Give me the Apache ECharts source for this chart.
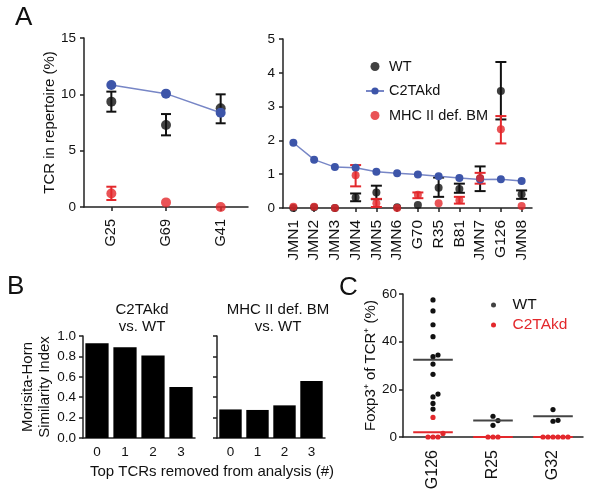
<!DOCTYPE html>
<html><head><meta charset="utf-8">
<script src="https://cdn.jsdelivr.net/npm/echarts@6/dist/echarts.min.js"></script>
<style>html,body{margin:0;padding:0;background:#fff}#c{width:600px;height:504px}</style>
</head><body><div id="c"></div>
<script>
// ---- Panel A (left) ----
const aLeftCats = ['G25', 'G69', 'G41'];
const aLeftWT = [9.35, 7.28, 8.76];
const aLeftWTlo = [8.46, 6.36, 7.43];
const aLeftWThi = [10.24, 8.25, 10.0];
const aLeftKD = [10.83, 10.06, 8.37];
const aLeftMHC = [1.2, 0.41, 0];
const aLeftMHClo = [0.62, null, null];
const aLeftMHChi = [1.8, null, null];
// ---- Panel A (right) ----
const aRightCats = ['JMN1','JMN2','JMN3','JMN4','JMN5','JMN6','G70','R35','B81','JMN7','G126','JMN8'];
const aRightKD = [1.93, 1.43, 1.21, 1.19, 1.07, 1.03, 0.99, 0.94, 0.89, 0.84, 0.85, 0.80];
const aRightWT = [0, 0.02, 0, 0.31, 0.46, 0.02, 0.09, 0.60, 0.56, 0.87, 3.46, 0.41];
const aRightWTlo = [null, null, null, 0.20, 0.26, null, null, 0.33, 0.45, 0.50, 2.62, 0.27];
const aRightWThi = [null, null, null, 0.43, 0.66, null, null, 0.90, 0.72, 1.23, 4.32, 0.52];
const aRightMHC = [0.04, 0.04, 0, 0.97, 0.14, 0, 0.39, 0.14, 0.23, 0.89, 2.33, 0.06];
const aRightMHClo = [null, null, null, 0.64, 0.03, null, 0.29, null, 0.13, 0.72, 1.91, null];
const aRightMHChi = [null, null, null, 1.27, 0.27, null, 0.46, null, 0.33, 1.04, 2.72, null];
// ---- Panel B ----
const bCats = ['0', '1', '2', '3'];
const bKDvsWT = [0.93, 0.89, 0.81, 0.50];
const bMHCvsWT = [0.28, 0.275, 0.32, 0.56];
// ---- Panel C ----
const cCats = ['G126', 'R25', 'G32'];
const cWT = [
  [57.5, 52.9, 47.1, 42.1, 34.4, 33.7, 30.6, 26.3, 18.0, 16.8, 14.1, 11.7],
  [8.7, 6.9, 4.9],
  [11.5, 7.0, 6.6]
];
const cKD = [
  [8.2, 1.5, 0, 0, 0],
  [0, 0, 0],
  [0, 0, 0, 0, 0, 0]
];
const cWTmean = [32.4, 6.9, 8.7];
const cKDmean = [2.0, 0, 0];

const FONT = '"Liberation Sans", Arial, Helvetica, sans-serif';
const BLACK = '#111111', BLUE = '#3d55a9', BLUELINE = '#7786c6', RED = '#e3282c';
const AX = '#222222';

function errData(lo, hi) {
  const out = [];
  lo.forEach((l, i) => { if (l !== null && hi[i] !== null) out.push([i, l, hi[i]]); });
  return out;
}
function errSeries(xi, yi, data, color, cap) {
  return {
    type: 'custom', xAxisIndex: xi, yAxisIndex: yi, data: data, z: 3,
    renderItem: function (params, api) {
      const p1 = api.coord([api.value(0), api.value(1)]);
      const p2 = api.coord([api.value(0), api.value(2)]);
      const st = { stroke: color, lineWidth: 2 };
      return { type: 'group', children: [
        { type: 'line', shape: { x1: p1[0], y1: p1[1], x2: p2[0], y2: p2[1] }, style: st },
        { type: 'line', shape: { x1: p1[0] - cap, y1: p1[1], x2: p1[0] + cap, y2: p1[1] }, style: st },
        { type: 'line', shape: { x1: p2[0] - cap, y1: p2[1], x2: p2[0] + cap, y2: p2[1] }, style: st }
      ]};
    }
  };
}
// simple beeswarm: returns horizontal slot index per value
function swarm(vals, pxPerUnit, step, minDist) {
  const idx = vals.map((v, i) => i).sort((a, b) => vals[a] - vals[b]);
  const placed = []; const slots = new Array(vals.length);
  for (const i of idx) {
    const y = vals[i] * pxPerUnit;
    for (let k = 0; ; k++) {
      const slot = k === 0 ? 0 : (k % 2 ? (k + 1) / 2 : -k / 2);
      const x = slot * step;
      if (placed.every(p => Math.hypot(p.x - x, p.y - y) >= minDist - 1e-9)) { placed.push({ x, y }); slots[i] = slot; break; }
    }
  }
  return slots;
}
const DOT_STEP = 5;
function swarmData(groups) {
  const out = [];
  groups.forEach((g, ci) => {
    const slots = swarm(g, 143 / 60, DOT_STEP, 5);
    g.forEach((v, j) => out.push([ci, v, slots[j]]));
  });
  return out;
}
function dotSeries(name, groups, color) {
  return {
    name: name, type: 'custom', xAxisIndex: 4, yAxisIndex: 4, z: 3,
    data: swarmData(groups), itemStyle: { color: color },
    renderItem: function (params, api) {
      const p = api.coord([api.value(0), api.value(1)]);
      return { type: 'circle', shape: { cx: p[0] + api.value(2) * DOT_STEP, cy: p[1], r: 2.6 }, style: { fill: color } };
    }
  };
}
function meanSeries(means, color) {
  return {
    type: 'custom', xAxisIndex: 4, yAxisIndex: 4, z: 4,
    data: means.map((m, i) => [i, m]),
    renderItem: function (params, api) {
      const p = api.coord([api.value(0), api.value(1)]);
      const w = api.size([1, 0])[0] * 0.33;
      return { type: 'line', shape: { x1: p[0] - w, y1: p[1], x2: p[0] + w, y2: p[1] }, style: { stroke: color, lineWidth: 2 } };
    }
  };
}

const axisLine = { show: true, lineStyle: { color: AX, width: 1.5 } };
const tick = { show: true, length: 4, lineStyle: { color: AX, width: 1.5 } };
const lbl = (fs) => ({ color: '#111', fontSize: fs, fontFamily: FONT });

const chart = echarts.init(document.getElementById('c'), null, { renderer: 'canvas' });
chart.setOption({
  animation: false,
  backgroundColor: '#fff',
  textStyle: { fontFamily: FONT },
  grid: [
    { left: 84, top: 38, width: 164, height: 169 },
    { left: 283, top: 39, width: 249, height: 169 },
    { left: 83, top: 336, width: 112, height: 102 },
    { left: 217, top: 336, width: 108, height: 102 },
    { left: 403, top: 294, width: 180, height: 143 }
  ],
  xAxis: [
    { gridIndex: 0, type: 'category', data: aLeftCats, axisLine, axisTick: Object.assign({ alignWithLabel: true }, tick),
      axisLabel: Object.assign({ rotate: 90, margin: 12 }, lbl(14.5)) },
    { gridIndex: 1, type: 'category', data: aRightCats, axisLine, axisTick: Object.assign({ alignWithLabel: true }, tick),
      axisLabel: Object.assign({ rotate: 90, margin: 12, interval: 0 }, lbl(15.5)) },
    { gridIndex: 2, type: 'category', data: bCats, axisLine, axisTick: { show: false },
      axisLabel: Object.assign({ margin: 7 }, lbl(13.5)) },
    { gridIndex: 3, type: 'category', data: bCats, axisLine, axisTick: { show: false },
      axisLabel: Object.assign({ margin: 7 }, lbl(13.5)) },
    { gridIndex: 4, type: 'category', data: cCats, axisLine, axisTick: { show: false },
      axisLabel: Object.assign({ rotate: 90, margin: 13 }, lbl(16)) }
  ],
  yAxis: [
    { gridIndex: 0, type: 'value', min: 0, max: 15, interval: 5, axisLine, axisTick: tick, splitLine: { show: false },
      axisLabel: Object.assign({ margin: 8 }, lbl(13.5)),
      name: 'TCR in repertoire (%)', nameLocation: 'middle', nameGap: 22,
      nameTextStyle: { fontSize: 15, color: '#111', fontFamily: FONT } },
    { gridIndex: 1, type: 'value', min: 0, max: 5, interval: 1, axisLine, axisTick: tick, splitLine: { show: false },
      axisLabel: Object.assign({ margin: 8 }, lbl(13.5)) },
    { gridIndex: 2, type: 'value', min: 0, max: 1, interval: 0.2, axisLine, axisTick: tick, splitLine: { show: false },
      axisLabel: Object.assign({ margin: 7, formatter: v => v.toFixed(1) }, lbl(13.5)),
      name: 'Morisita-Horn\nSimilarity Index', nameLocation: 'middle', nameGap: 26,
      nameTextStyle: { fontSize: 15, lineHeight: 17, color: '#111', fontFamily: FONT } },
    { gridIndex: 3, type: 'value', min: 0, max: 1, interval: 0.2, axisLine, axisTick: tick, splitLine: { show: false },
      axisLabel: { show: false } },
    { gridIndex: 4, type: 'value', min: 0, max: 60, interval: 20, axisLine, axisTick: tick, splitLine: { show: false },
      axisLabel: Object.assign({ margin: 6 }, lbl(13.5)),
      name: 'Foxp3\u207A of TCR\u207A (%)', nameLocation: 'middle', nameGap: 21,
      nameTextStyle: { fontSize: 15, color: '#111', fontFamily: FONT } }
  ],
  legend: [
    { orient: 'vertical', left: 360, top: 54, itemWidth: 18, itemHeight: 9, itemGap: 9.5,
      textStyle: { fontSize: 14.5, color: '#111', fontFamily: FONT },
      data: [{ name: 'WT', icon: 'circle' }, { name: 'C2TAkd' }, { name: 'MHC II def. BM', icon: 'circle' }] },
    { orient: 'vertical', left: 486, top: 292, itemWidth: 14, itemHeight: 5, itemGap: 4,
      textStyle: { fontSize: 15.5, fontFamily: FONT, padding: [0, 0, 0, 7] },
      data: [
        { name: 'WT', icon: 'circle', itemStyle: { color: BLACK }, textStyle: { color: '#111' } },
        { name: 'C2TAkd', icon: 'circle', itemStyle: { color: RED }, textStyle: { color: RED } }
      ] }
  ],
  title: [
    { text: 'C2TAkd\nvs. WT', left: 137, top: 296, textAlign: 'center',
      textStyle: { fontSize: 15, lineHeight: 17, fontWeight: 'normal', color: '#111', fontFamily: FONT } },
    { text: 'MHC II def. BM\nvs. WT', left: 273, top: 296, textAlign: 'center',
      textStyle: { fontSize: 15, lineHeight: 17, fontWeight: 'normal', color: '#111', fontFamily: FONT } },
    { text: 'Top TCRs removed from analysis (#)', left: 207, top: 459, textAlign: 'center',
      textStyle: { fontSize: 15, fontWeight: 'normal', color: '#111', fontFamily: FONT } }
  ],
  graphic: [
    { type: 'text', left: 15, top: 5, style: { text: 'A', fontSize: 26, fill: '#111', fontFamily: FONT } },
    { type: 'text', left: 7, top: 274, style: { text: 'B', fontSize: 26, fill: '#111', fontFamily: FONT } },
    { type: 'text', left: 339, top: 275, style: { text: 'C', fontSize: 26, fill: '#111', fontFamily: FONT } }
  ],
  series: [
    // Panel A left
    errSeries(0, 0, errData(aLeftWTlo, aLeftWThi), BLACK, 5),
    { name: 'WT', type: 'scatter', xAxisIndex: 0, yAxisIndex: 0, data: aLeftWT, symbolSize: 10, itemStyle: { color: BLACK }, z: 3 },
    { name: 'C2TAkd', type: 'line', xAxisIndex: 0, yAxisIndex: 0, data: aLeftKD, symbol: 'circle', symbolSize: 10,
      itemStyle: { color: BLUE }, lineStyle: { color: BLUELINE, width: 1.5 }, z: 4 },
    errSeries(0, 0, errData(aLeftMHClo, aLeftMHChi), RED, 5),
    { name: 'MHC II def. BM', type: 'scatter', xAxisIndex: 0, yAxisIndex: 0, data: aLeftMHC, symbolSize: 10, itemStyle: { color: RED }, z: 5 },
    // Panel A right
    errSeries(1, 1, errData(aRightWTlo, aRightWThi), BLACK, 5.5),
    { name: 'WT', type: 'scatter', xAxisIndex: 1, yAxisIndex: 1, data: aRightWT, symbolSize: 8, itemStyle: { color: BLACK }, z: 3 },
    { name: 'C2TAkd', type: 'line', xAxisIndex: 1, yAxisIndex: 1, data: aRightKD, symbol: 'circle', symbolSize: 8,
      itemStyle: { color: BLUE }, lineStyle: { color: BLUELINE, width: 1.5 }, z: 4 },
    errSeries(1, 1, errData(aRightMHClo, aRightMHChi), RED, 5.5),
    { name: 'MHC II def. BM', type: 'scatter', xAxisIndex: 1, yAxisIndex: 1, data: aRightMHC, symbolSize: 8, itemStyle: { color: RED }, z: 5 },
    // Panel B
    { type: 'bar', xAxisIndex: 2, yAxisIndex: 2, data: bKDvsWT, barCategoryGap: '17%', itemStyle: { color: '#000' } },
    { type: 'bar', xAxisIndex: 3, yAxisIndex: 3, data: bMHCvsWT, barCategoryGap: '17%', itemStyle: { color: '#000' } },
    // Panel C
    dotSeries('WT', cWT, BLACK),
    dotSeries('C2TAkd', cKD, RED),
    meanSeries(cWTmean, '#444444'),
    meanSeries(cKDmean, RED)
  ]
});
</script></body></html>
